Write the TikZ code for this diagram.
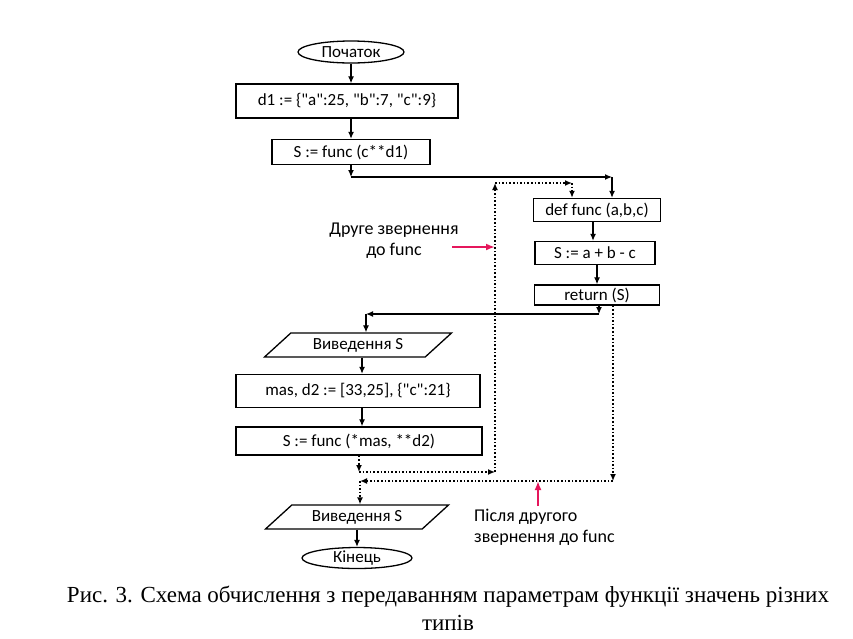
\documentclass[tikz,border=0pt]{standalone}
\usepackage{fontspec}
\setmainfont{Liberation Serif}
\newfontfamily\chartfont{Carlito}
\usetikzlibrary{arrows.meta,shapes.geometric}
\definecolor{mark600}{HTML}{E5175C}
\tikzset{
  box/.style    ={draw=black, line width=1.4pt, minimum height=#1, inner sep=2pt,
                  font=\chartfont\fontsize{17}{19}\selectfont},
  box/.default  =24pt,
  term/.style   ={ellipse, draw=black, line width=1.3pt, inner sep=0pt,
                  font=\chartfont\fontsize{17}{19}\selectfont},
  io/.style     ={trapezium, trapezium left angle=31, trapezium right angle=149,
                  trapezium stretches body, draw=black, line width=1.3pt,
                  minimum height=24pt, inner sep=1pt,
                  font=\chartfont\fontsize{17}{19}\selectfont},
  ar/.style     ={-{Latex[length=7pt,width=6pt]}, draw=black, line width=1.2pt},
  arn/.style    ={-{Latex[length=7pt,width=6pt]}, draw=black, line width=1.6pt,
                  dotted},
  pin/.style    ={-{Latex[length=9pt,width=7pt]}, draw=mark600, line width=2pt},
  note/.style   ={font=\chartfont\fontsize{18}{21}\selectfont, inner sep=0pt},
  caption/.style={font=\fontsize{23}{28}\selectfont, inner sep=0pt}
}
\begin{document}
\begin{tikzpicture}[x=1pt,y=-1pt]
\useasboundingbox (0,0) rectangle (853,638);
\node[term, minimum width=106pt, minimum height=22pt] (start) at (351,52) {Початок};
\node[box=34pt, minimum width=222pt] (d1) at (347,101) {d1 := \{"a":25, "b":7, "c":9\}};
\node[box=25pt, minimum width=158pt] (call1) at (351,152) {S := func (c**d1)};
\node[box=23pt, minimum width=127pt] (def) at (597,210) {def func (a,b,c)};
\node[box=23pt, minimum width=120pt] (sum) at (595,253) {S := a + b - c};
\node[box=20pt, minimum width=125pt] (ret) at (597,295) {return (S)};
\node[io, minimum width=187pt] (out1) at (358,345) {Виведення S};
\node[box=33pt, minimum width=244pt] (mas) at (358,391) {mas, d2 := [33,25], \{"c":21\}};
\node[box=28pt, minimum width=246pt] (call2) at (359,441) {S := func (*mas, **d2)};
\node[io, minimum width=183pt] (out2) at (357,517) {Виведення S};
\node[term, minimum width=110pt, minimum height=21pt] (end) at (357,558) {Кінець};

\node[note, align=center] (first) at (394,241) {Друге звернення\\до func};
\node[note, align=left, anchor=west] (second) at (474,527) {Після другого\\звернення до func};
\node[caption, align=center] (title) at (448,608)
  {Рис. 3. Схема обчислення з передаванням параметрам функції значень різних\\типів};

\coordinate (c1) at (351,177);
\coordinate (c2) at (612,177);
\coordinate (c3) at (599,314);
\coordinate (c4) at (366,314);
\coordinate (d1a) at (359,472);
\coordinate (d1b) at (495,472);
\coordinate (d1c) at (495,183);
\coordinate (d1d) at (572,183);
\coordinate (d2a) at (613,481);
\coordinate (d2b) at (360,481);
\coordinate (p1) at (452,247);
\coordinate (p2) at (538,506);

\draw[ar] (start) -- (start.south |- d1.north);
\draw[ar] (d1.south -| call1) -- (call1.north);
\draw[ar] (call1.south -| c1) -- (c1);
\draw[ar] (c1) -- (c2);
\draw[ar] (c2) -- (c2 |- def.north);
\draw[ar] (def.south -| 593,0) -- (sum.north -| 593,0);
\draw[ar] (sum.south -| 597,0) -- (ret.north -| 597,0);
\draw[ar] (ret.south -| c3) -- (c3);
\draw[ar] (c3) -- (c4);
\draw[ar] (c4) -- (c4 |- out1.north);
\draw[ar] (out1.south -| 362,0) -- (mas.north -| 362,0);
\draw[ar] (mas.south -| 362,0) -- (call2.north -| 362,0);
\draw[ar] (out2.south -| end) -- (end.north);

\draw[arn] (call2.south -| d1a) -- (d1a);
\draw[arn] (d1a) -- (d1b);
\draw[arn] (d1b) -- (d1c);
\draw[arn] (d1c) -- (d1d);
\draw[arn] (d1d) -- (d1d |- def.north);
\draw[arn] (ret.south -| d2a) -- (d2a);
\draw[arn] (d2a) -- (d2b);
\draw[arn] (d2b) -- (d2b |- out2.north);

\draw[pin] (p1) -- (p1 -| d1c);
\draw[pin] (p2) -- (p2 |- d2a);
\end{tikzpicture}
\end{document}
